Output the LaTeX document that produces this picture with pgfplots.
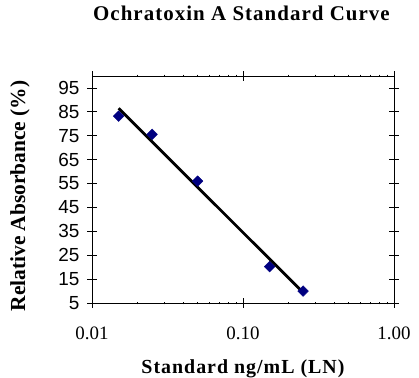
\documentclass[border=0pt]{standalone}
\usepackage{fontspec}
\setmainfont{Liberation Serif}
\newfontfamily\arial{Liberation Sans}
\newfontfamily\spaced[LetterSpace=5]{Liberation Serif}
\usepackage{pgfplots}
\pgfplotsset{compat=1.18}
\definecolor{navy}{RGB}{0,0,128}
\begin{document}
\begin{tikzpicture}[x=1bp,y=1bp]
\useasboundingbox (0,0) rectangle (419,378);
\begin{axis}[
  at={(92bp,75bp)}, anchor=south west,
  scale only axis, width=302bp, height=227bp,
  xmode=log, xmin=0.01, xmax=1, ymin=5, ymax=100,
  xtick={0.01,0.1,1}, xticklabels={0.01,0.10,1.00},
  ytick={5,15,25,35,45,55,65,75,85,95},
  yticklabels={5,15,25,35,45,55,65,75,85,95},
  minor xtick={}, 
  tick align=center, major tick length=10bp,
  axis line style={line width=0.8pt},
  tick style={line width=0.8pt,black},
  yticklabel style={font=\arial\fontsize{19}{19}\selectfont, xshift=-4bp},
  xticklabel style={font=\fontsize{19}{19}\selectfont, yshift=-15bp},
  clip=false,
]
\addplot[black, line width=2.8pt, no marks] coordinates {(0.015,86.5) (0.25,9.4)};
\addplot[only marks, mark=square*, mark size=3.8pt, mark options={rotate=45, fill=navy, draw=navy}] coordinates {
(0.015,83.2) (0.025,75.6) (0.05,56) (0.15,20.2) (0.25,10)};
\end{axis}
\node at (241.5,365) {\spaced\bfseries\fontsize{21}{21}\selectfont Ochratoxin A Standard Curve};
\node[rotate=90] at (20,182) {\bfseries\fontsize{21.5}{21.5}\selectfont Relative Absorbance (\%)};
\node at (243,9) {\spaced\bfseries\fontsize{20}{20}\selectfont Standard ng/mL (LN)};
\end{tikzpicture}
\end{document}
